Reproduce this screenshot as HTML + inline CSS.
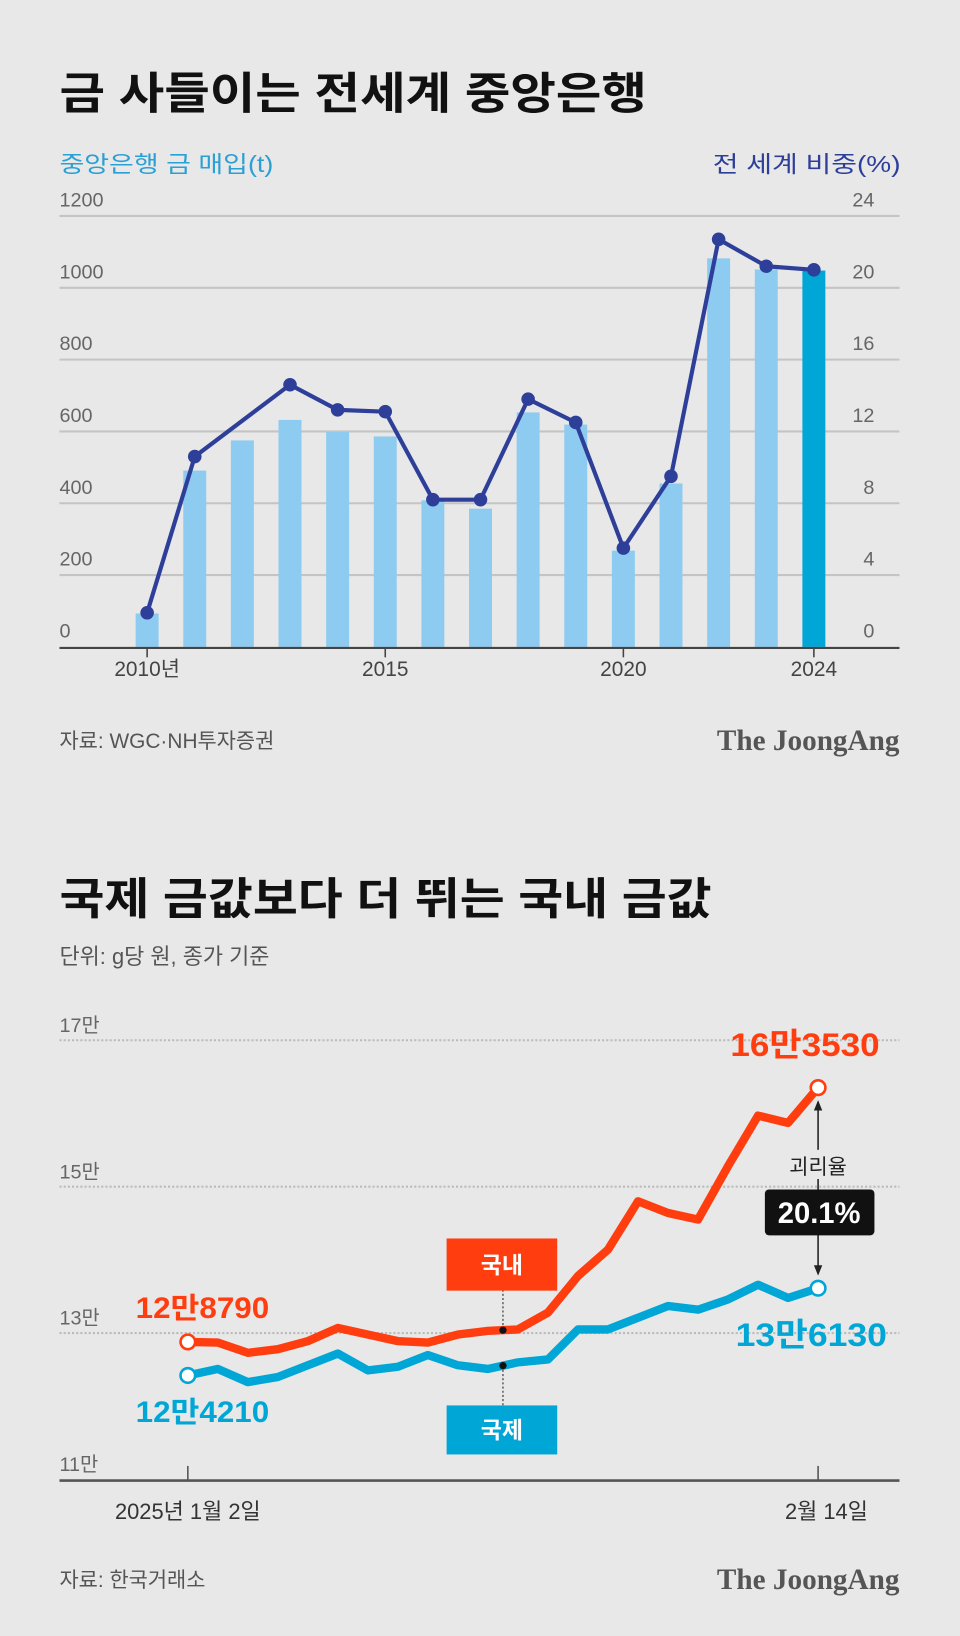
<!DOCTYPE html>
<html><head><meta charset="utf-8"><style>
html,body{margin:0;padding:0;background:#e8e8e8;}
svg{display:block;font-family:"Liberation Sans","Noto Sans CJK KR",sans-serif;}
</style></head><body>
<svg id="s" width="960" height="1636" viewBox="0 0 920 1568" preserveAspectRatio="none" xmlns="http://www.w3.org/2000/svg">
<rect width="920" height="1568" fill="#e8e8e8"/>
<text x="57" y="104" font-size="42" font-weight="bold" fill="#111" textLength="563" lengthAdjust="spacingAndGlyphs">금 사들이는 전세계 중앙은행</text>
<text x="57" y="165" font-size="22" fill="#2aa0d4" textLength="205" lengthAdjust="spacingAndGlyphs">중앙은행 금 매입(t)</text>
<text x="863" y="165" font-size="22" fill="#2e3f9a" text-anchor="end" textLength="180" lengthAdjust="spacingAndGlyphs">전 세계 비중(%)</text>
<g id="c1"></g>
<text x="57" y="717" font-size="20" fill="#555">자료: WGC·NH투자증권</text>
<text x="862" y="719" font-size="28" font-weight="bold" fill="#555" text-anchor="end" font-family="Liberation Serif, serif">The JoongAng</text>

<text x="57" y="876" font-size="42" font-weight="bold" fill="#111" textLength="625" lengthAdjust="spacingAndGlyphs">국제 금값보다 더 뛰는 국내 금값</text>
<text x="57" y="924" font-size="21" fill="#555">단위: g당 원, 종가 기준</text>
<g id="c2"></g>
<text x="57" y="1521" font-size="20" fill="#555">자료: 한국거래소</text>
<text x="862" y="1523" font-size="28" font-weight="bold" fill="#555" text-anchor="end" font-family="Liberation Serif, serif">The JoongAng</text>
</svg>
<script>
const years=[2010,2011,2012,2013,2014,2015,2016,2017,2018,2019,2020,2021,2022,2023,2024];
const purchases=[93,491,575,632,599,586,408,385,653,619,268,455,1082,1051,1048];
const shares=[1.9,10.6,null,14.6,13.2,13.1,8.2,8.2,13.8,12.5,5.5,9.5,22.7,21.2,21.0];
const leftTicks=[0,200,400,600,800,1000,1200];
const rightTicks=["0","4","8","12","16","20","24"];
const xTickLabels={2010:"2010년",2015:"2015",2020:"2020",2024:"2024"};

const dom=[0,1,2,3,4,5,6,7,8,9,10,11,12,13,14,15,16,17,18,19,20,21];
const domestic=[12.879,12.87,12.73,12.78,12.89,13.07,12.98,12.89,12.87,12.98,13.03,13.05,13.28,13.78,14.14,14.80,14.64,14.55,15.28,15.97,15.87,16.353];
const intl=[12.421,12.51,12.33,12.40,12.56,12.72,12.49,12.54,12.70,12.56,12.51,12.60,12.64,13.05,13.05,13.21,13.37,13.32,13.46,13.66,13.48,13.613];
const yTicks2=[11,13,15,17];

const NS="http://www.w3.org/2000/svg";
function mk(p,t,a,txt){const e=document.createElementNS(NS,t);for(const k in a)e.setAttribute(k,a[k]);if(txt!=null)e.textContent=txt;p.appendChild(e);return e;}

// chart 1
const c1=document.getElementById('c1');
const x1=y=>141+(y-2010)*45.64;
const yL=v=>620-v/1200*413;
const yR=v=>620-v/24*413;
leftTicks.forEach((t,i)=>{
 if(t>0){const g=mk(c1,'line',{x1:57,x2:862,y1:yL(t),y2:yL(t),stroke:'#c4c4c4','stroke-width':2});
 }
 const a=mk(c1,'text',{x:57,y:yL(t)-9,'font-size':19,fill:'#666'},String(t));
 
 const b=mk(c1,'text',{x:838,y:yL(t)-9,'font-size':19,fill:'#666','text-anchor':'end'},rightTicks[i]);
 
});
years.forEach((y,i)=>{
 const r=mk(c1,'rect',{x:x1(y)-11,y:yL(purchases[i]),width:22,height:620-yL(purchases[i]),fill:i==years.length-1?'#00a6d6':'#8ecbf0'});
 
});
const ax=mk(c1,'line',{x1:57,x2:862,y1:621,y2:621,stroke:'#444','stroke-width':2});

Object.keys(xTickLabels).forEach(k=>{
 const y=+k;const t=mk(c1,'line',{x1:x1(y),x2:x1(y),y1:621,y2:630,stroke:'#444','stroke-width':1.5});
 
 const l=mk(c1,'text',{x:x1(y),y:648,'font-size':20,fill:'#444','text-anchor':'middle'},xTickLabels[k]);
 
});
let pts=[];years.forEach((y,i)=>{if(shares[i]!=null)pts.push([x1(y),yR(shares[i])]);});
const pl=mk(c1,'polyline',{points:pts.map(p=>p.join(',')).join(' '),fill:'none',stroke:'#2e3f9a','stroke-width':4,'stroke-linejoin':'round'});

pts.forEach(p=>{const c=mk(c1,'circle',{cx:p[0],cy:p[1],r:6.5,fill:'#2e3f9a'});
 });

// chart 2
const c2=document.getElementById('c2');
const x2=i=>180+i*(604/21);
const y2=v=>1418-(v-11)/6*421;
yTicks2.forEach(t=>{
 if(t>11){const g=mk(c2,'line',{x1:57,x2:862,y1:y2(t),y2:y2(t),stroke:'#bbb','stroke-width':2,'stroke-dasharray':'2,2'});
 }
 const l=mk(c2,'text',{x:57,y:y2(t)-8,'font-size':19,fill:'#666'},t+'만');
 
});
const ax2=mk(c2,'line',{x1:57,x2:862,y1:1419,y2:1419,stroke:'#555','stroke-width':2.5});

[0,21].forEach(i=>{const t=mk(c2,'line',{x1:x2(i),x2:x2(i),y1:1405,y2:1419,stroke:'#555','stroke-width':1.5});
 });
const xl1=mk(c2,'text',{x:180,y:1456,'font-size':21,fill:'#333','text-anchor':'middle'},'2025년 1월 2일');

const xl2=mk(c2,'text',{x:792,y:1456,'font-size':21,fill:'#333','text-anchor':'middle'},'2월 14일');

function interp(arr,x){const f=(x-180)/(604/21);const i=Math.floor(f);const t=f-i;return arr[i]+(arr[i+1]-arr[i])*t;}
const mx=482;
const dl1=mk(c2,'line',{x1:mx,x2:mx,y1:1236,y2:y2(interp(domestic,mx)),stroke:'#222','stroke-width':1,'stroke-dasharray':'2,2'});

const dl2=mk(c2,'line',{x1:mx,x2:mx,y1:y2(interp(intl,mx)),y2:1348,stroke:'#222','stroke-width':1,'stroke-dasharray':'2,2'});

[[intl,'#00a6d6','intl-line'],[domestic,'#ff3d0f','domestic-line']].forEach(([arr,col,nm])=>{
 const p=mk(c2,'polyline',{points:dom.map(i=>x2(i)+','+y2(arr[i])).join(' '),fill:'none',stroke:col,'stroke-width':8,'stroke-linejoin':'round'});
 
 [0,dom.length-1].forEach(i=>{const c=mk(c2,'circle',{cx:x2(i),cy:y2(arr[i]),r:7,fill:'#fff',stroke:col,'stroke-width':2.5});
  });
});
[[domestic,'domestic-marker'],[intl,'intl-marker']].forEach(([arr,nm])=>{
 const c=mk(c2,'circle',{cx:mx,cy:y2(interp(arr,mx)),r:3.5,fill:'#111'});
 });
const b1=mk(c2,'rect',{x:428,y:1187,width:106,height:50,fill:'#ff3d0f'});

const b1t=mk(c2,'text',{x:481,y:1220,'font-size':22,'font-weight':'bold',fill:'#fff','text-anchor':'middle'},'국내');

const b2=mk(c2,'rect',{x:428,y:1347,width:106,height:47,fill:'#00a6d6'});

const b2t=mk(c2,'text',{x:481,y:1378,'font-size':22,'font-weight':'bold',fill:'#fff','text-anchor':'middle'},'국제');

const v1=mk(c2,'text',{x:130,y:1263,'font-size':28,'font-weight':'bold',fill:'#ff3d0f',textLength:128,lengthAdjust:'spacingAndGlyphs'},'12만8790');

const v2=mk(c2,'text',{x:130,y:1363,'font-size':28,'font-weight':'bold',fill:'#00a6d6',textLength:128,lengthAdjust:'spacingAndGlyphs'},'12만4210');

const v3=mk(c2,'text',{x:700,y:1012,'font-size':31,'font-weight':'bold',fill:'#ff3d0f',textLength:143,lengthAdjust:'spacingAndGlyphs'},'16만3530');

const v4=mk(c2,'text',{x:705,y:1290,'font-size':31,'font-weight':'bold',fill:'#00a6d6',textLength:145,lengthAdjust:'spacingAndGlyphs'},'13만6130');

const ar=mk(c2,'line',{x1:x2(21),x2:x2(21),y1:y2(domestic[21])+14,y2:y2(intl[21])-14,stroke:'#222','stroke-width':1.5});

const ah1=mk(c2,'path',{d:`M${x2(21)-4},${y2(domestic[21])+22} L${x2(21)},${y2(domestic[21])+12} L${x2(21)+4},${y2(domestic[21])+22}Z`,fill:'#222'});

const ah2=mk(c2,'path',{d:`M${x2(21)-4},${y2(intl[21])-22} L${x2(21)},${y2(intl[21])-12} L${x2(21)+4},${y2(intl[21])-22}Z`,fill:'#222'});

const gbg=mk(c2,'rect',{x:750,y:1102,width:68,height:28,fill:'#e8e8e8'});

const gt=mk(c2,'text',{x:784,y:1125,'font-size':20,fill:'#222','text-anchor':'middle'},'괴리율');

const gb=mk(c2,'rect',{x:733,y:1140,width:105,height:44,rx:4,fill:'#111'});

const gv=mk(c2,'text',{x:785,y:1172,'font-size':28,'font-weight':'bold',fill:'#fff','text-anchor':'middle'},'20.1%');

</script>
</body></html>
